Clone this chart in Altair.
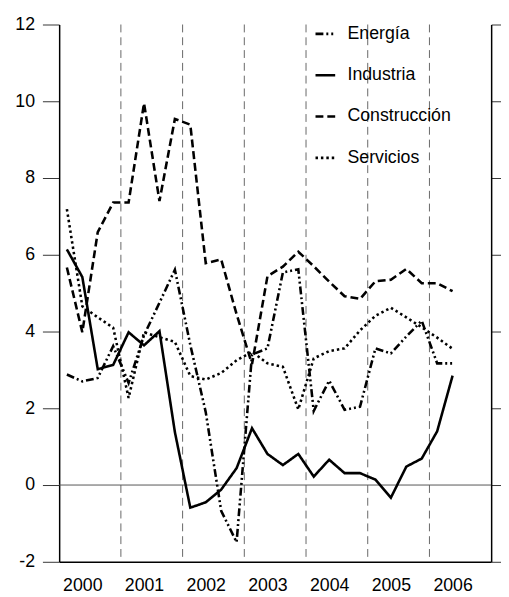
import altair as alt
import pandas as pd

years = [2000, 2001, 2002, 2003, 2004, 2005, 2006]
quarters_per_year = 4
n_points = 26  # 2000T1 .. 2006T2

series_names = ["Energía", "Industria", "Construcción", "Servicios"]

energia = [2.88, 2.70, 2.79, 3.62, 2.66, 3.90, 4.75, 5.61, 3.65, 1.90, -0.67, -1.49,
           3.40, 3.56, 5.54, 5.62, 1.93, 2.72, 1.96, 2.04, 3.56, 3.43, 3.87, 4.28, 3.17, 3.17]
industria = [6.14, 5.42, 3.02, 3.13, 3.98, 3.64, 4.01, 1.38, -0.59, -0.45, -0.12, 0.44,
             1.48, 0.81, 0.52, 0.81, 0.22, 0.66, 0.31, 0.31, 0.14, -0.33, 0.48, 0.69, 1.40, 2.85]
construccion = [5.67, 3.98, 6.59, 7.36, 7.36, 9.95, 7.40, 9.54, 9.39, 5.78, 5.88, 4.45,
                3.15, 5.44, 5.69, 6.08, 5.70, 5.30, 4.92, 4.85, 5.31, 5.35, 5.63, 5.26, 5.26, 5.05]
servicios = [7.19, 4.66, 4.37, 4.10, 2.27, 3.98, 3.85, 3.73, 2.84, 2.75, 2.92, 3.25,
             3.47, 3.17, 3.08, 1.97, 3.30, 3.49, 3.56, 4.03, 4.41, 4.62, 4.37, 4.11, 3.84, 3.55]

year_lines = [2001, 2002, 2003, 2004, 2005, 2006]
y_ticks = [-2, 0, 2, 4, 6, 8, 10, 12]

# time position of each quarter (middle of the quarter)
t = [years[0] + (i + 0.5) / quarters_per_year for i in range(n_points)]
label_pos = [y + 1.5 / quarters_per_year for y in years]

rows = []
for name, vals in zip(series_names, [energia, industria, construccion, servicios]):
    for ti, v in zip(t, vals):
        rows.append({"t": ti, "valor": v, "serie": name})
df = pd.DataFrame(rows)

FONT = "Liberation Sans"
xscale = alt.Scale(domain=[2000, 2007], nice=False, zero=False)
yscale = alt.Scale(domain=[-2, 12], nice=False, zero=False)

lines = alt.Chart(df).mark_line(color="black", strokeWidth=2.6, strokeJoin="miter").encode(
    x=alt.X("t:Q", scale=xscale,
            axis=alt.Axis(values=label_pos, labelExpr="format(floor(datum.value), 'd')",
                          ticks=False, grid=False, title=None, labelFontSize=18,
                          labelFont=FONT, labelColor="black", labelPadding=15,
                          domainColor="black", domainWidth=1.5)),
    y=alt.Y("valor:Q", scale=yscale,
            axis=alt.Axis(values=y_ticks, orient="left", tickSize=17, tickColor="#333",
                          labelExpr="datum.value + ''",
                          labelFontSize=18, labelFont=FONT, labelColor="black",
                          labelPadding=8, grid=False, title=None,
                          domainColor="black", domainWidth=1.5)),
    strokeDash=alt.StrokeDash(
        "serie:N",
        scale=alt.Scale(domain=series_names,
                        range=[[8, 3, 2, 3, 2, 3], [1, 0], [8, 4], [2.5, 3]]),
        legend=alt.Legend(orient="none", legendX=259, legendY=-2, title=None,
                          symbolType="stroke", symbolSize=400, symbolStrokeWidth=2.6,
                          symbolStrokeColor="black", labelFontSize=18, labelFont=FONT,
                          labelColor="black", labelOffset=11, rowPadding=21,
                          padding=0)),
    order=alt.Order("t:Q"),
)

vlines = alt.Chart(pd.DataFrame({"year": year_lines})).mark_rule(
    color="#666", strokeWidth=1, strokeDash=[8, 5]
).encode(x=alt.X("year:Q", scale=xscale))

zero = alt.Chart(pd.DataFrame({"z": [0]})).mark_rule(color="#555", strokeWidth=1).encode(
    y=alt.Y("z:Q", scale=yscale,
            axis=alt.Axis(values=y_ticks, orient="right", labels=False, tickSize=10,
                          tickColor="#333", grid=False, title=None,
                          domainColor="black", domainWidth=1.5))
)

chart = alt.layer(vlines, zero, lines).resolve_axis(y="independent").properties(
    width=439, height=546,
    autosize=alt.AutoSizeParams(type="none"),
    padding={"left": 52, "top": 12, "right": 10, "bottom": 31},
).configure_view(stroke=None)

chart.save("out.html", embed_options={"renderer": "svg", "actions": False})
